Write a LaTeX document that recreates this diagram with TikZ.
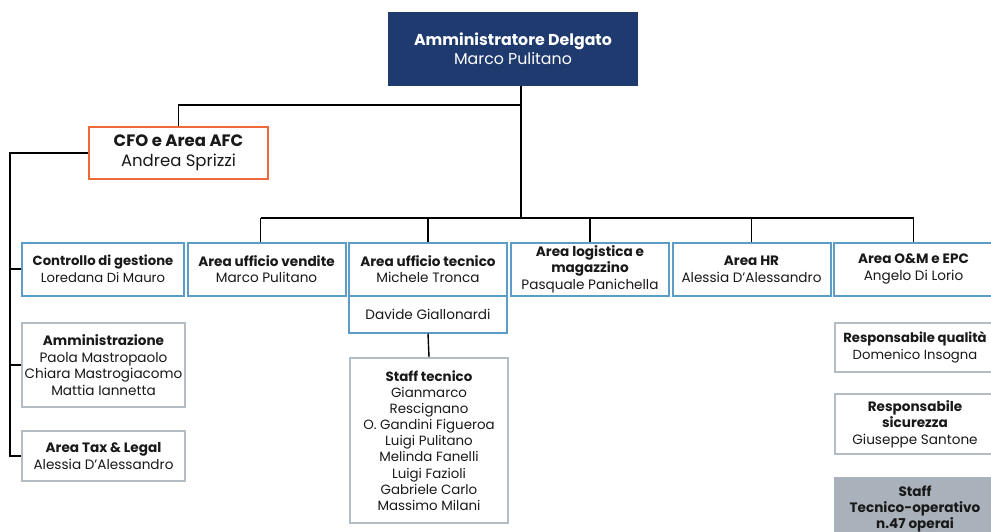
\documentclass[tikz,border=0pt]{standalone}
\usepackage{fontspec}
\setmainfont{Poppins}
\definecolor{navy}{HTML}{1F3A6E}
\definecolor{bluebd}{HTML}{5E9CC8}
\definecolor{orangebd}{HTML}{EE6A3C}
\definecolor{graybd}{HTML}{B4BCC4}
\definecolor{grayfill}{HTML}{A9B1BA}
\tikzset{
  box/.style={draw=bluebd, line width=2pt, fill=white, align=center, inner sep=1pt,
    font=\fontsize{13.6}{16.6}\selectfont, text=black!90},
  graybox/.style={box, draw=graybd},
  link/.style={draw=black, line width=1.4pt},
}
\newcommand{\hd}[1]{\textbf{#1}}
\begin{document}
\begin{tikzpicture}[x=1pt,y=-1pt]
\useasboundingbox (0,0) rectangle (991,532);
% top
\node[box, draw=navy, fill=navy, text=white, minimum width=248pt, minimum height=72pt,
  font=\fontsize{15.8}{19}\selectfont] (ad) at (513,49) {\hd{Amministratore Delgato}\\Marco Pulitano};
\node[box, draw=orangebd, minimum width=179pt, minimum height=52pt,
  font=\fontsize{16.5}{19.5}\selectfont] (cfo) at (178.5,153) {\hd{CFO e Area AFC}\\Andrea Sprizzi};
% row
\node[box, minimum width=162pt, minimum height=53pt, font=\fontsize{13.2}{16.6}\selectfont] (cg) at (103,269) {\hd{Controllo di gestione}\\Loredana Di Mauro};
\node[box, minimum width=158pt, minimum height=53pt] (vend) at (266.5,269) {\hd{Area ufficio vendite}\\Marco Pulitano};
\node[box, minimum width=158pt, minimum height=53pt] (tec) at (428,269) {\hd{Area ufficio tecnico}\\Michele Tronca};
\node[box, minimum width=158pt, minimum height=37pt] (dav) at (428,314) {Davide Giallonardi};
\node[box, minimum width=158pt, minimum height=53pt] (log) at (590,269) {\hd{Area logistica e}\\\hd{magazzino}\\Pasquale Panichella};
\node[box, minimum width=158pt, minimum height=53pt] (hr) at (751.5,269) {\hd{Area HR}\\Alessia D’Alessandro};
\node[box, minimum width=160pt, minimum height=53pt] (om) at (913.5,269) {\hd{Area O\&M e EPC}\\Angelo Di Lorio};
% left column
\node[graybox, minimum width=163pt, minimum height=84pt] (amm) at (103.5,365) {\hd{Amministrazione}\\Paola Mastropaolo\\Chiara Mastrogiacomo\\Mattia Iannetta};
\node[graybox, minimum width=163pt, minimum height=50pt] (tax) at (103.5,456) {\hd{Area Tax \& Legal}\\Alessia D’Alessandro};
% staff tecnico
\node[graybox, minimum width=158pt, minimum height=165pt, font=\fontsize{13.4}{16.1}\selectfont] (staff) at (429,440.5) {\hd{Staff tecnico}\\Gianmarco\\Rescignano\\O. Gandini Figueroa\\Luigi Pulitano\\Melinda Fanelli\\Luigi Fazioli\\Gabriele Carlo\\Massimo Milani};
% right column
\node[graybox, minimum width=160pt, minimum height=49pt, font=\fontsize{13.2}{16.6}\selectfont] (rq) at (915,347.5) {\hd{Responsabile qualità}\\Domenico Insogna};
\node[graybox, minimum width=160pt, minimum height=60pt] (rs) at (915,424) {\hd{Responsabile}\\\hd{sicurezza}\\Giuseppe Santone};
\node[graybox, draw=grayfill, fill=grayfill, minimum width=160pt, minimum height=62pt, anchor=north, font=\fontsize{13.6}{16.4}\selectfont] (sto) at (915,477) {\hd{Staff}\\\hd{Tecnico-operativo}\\\hd{n.47 operai}};
% connectors
\coordinate (bus) at (0,218);
\coordinate (top) at (0,105);
\coordinate (lt) at (10,153);
\coordinate (adx) at ([xshift=8pt]ad.south);
\draw[link] (adx) -- (adx |- bus);
\draw[link] (adx |- top) -| (cfo.north);
\draw[link] ([xshift=-6pt]vend.north |- bus) -- (om.north |- bus);
\draw[link] ([xshift=-6pt]vend.north |- bus) -- ([xshift=-6pt]vend.north);
\draw[link] (tec.north |- bus) -- (tec.north);
\draw[link] (log.north |- bus) -- (log.north);
\draw[link] (hr.north |- bus) -- (hr.north);
\draw[link] (om.north |- bus) -- (om.north);
\draw[link] (dav.south) -- (staff.north);
\draw[link] (cfo.west) -- (lt) |- (tax.west);
\draw[link] (lt |- cg.west) -- (cg.west);
\draw[link] (lt |- amm.west) -- (amm.west);
\end{tikzpicture}
\end{document}
